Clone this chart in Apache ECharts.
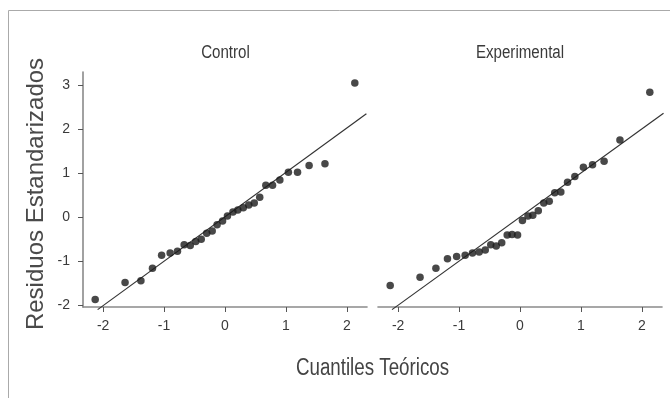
<!DOCTYPE html>
<html><head><meta charset="utf-8">
<script src="https://cdn.jsdelivr.net/npm/echarts@6/dist/echarts.min.js"></script>
<style>html,body{margin:0;padding:0;background:#fff}#c{width:670px;height:398px}</style>
</head><body><div id="c"></div>
<script>
const panelNames = ['Control', 'Experimental'];
const xTicks = [-2, -1, 0, 1, 2];
const yTicks = [-2, -1, 0, 1, 2, 3];
const theoQ = [-2.13,-1.64,-1.38,-1.19,-1.04,-0.90,-0.78,-0.67,-0.57,-0.48,-0.39,-0.30,-0.21,-0.13,-0.04,0.04,0.13,0.21,0.30,0.39,0.48,0.57,0.67,0.78,0.90,1.04,1.19,1.38,1.64,2.13];
const controlY = [-1.88,-1.49,-1.45,-1.17,-0.87,-0.82,-0.78,-0.63,-0.65,-0.56,-0.51,-0.37,-0.32,-0.18,-0.09,0.02,0.11,0.16,0.21,0.27,0.32,0.45,0.72,0.72,0.84,1.02,1.02,1.17,1.21,3.05];
const experimentalY = [-1.56,-1.37,-1.17,-0.95,-0.90,-0.87,-0.82,-0.80,-0.75,-0.63,-0.66,-0.59,-0.41,-0.40,-0.41,-0.08,0.02,0.04,0.14,0.32,0.36,0.55,0.57,0.79,0.92,1.13,1.19,1.27,1.75,2.84];
const controlLine = [[-2.09, -2.11], [2.32, 2.35]];
const experimentalLine = [[-2.10, -2.11], [2.355, 2.36]];
const xTitle = 'Cuantiles Teóricos';
const yTitle = 'Residuos Estandarizados';

const regular = "'Liberation Sans', Arial, sans-serif";

const chart = echarts.init(document.getElementById('c'), null, {renderer: 'canvas'});
const pts = ys => ys.map((y, i) => [theoQ[i], y]);
const grids = [
  {left: 83, top: 72, width: 284, height: 235},
  {left: 378, top: 72, width: 284, height: 235}
];
const xAxisBase = i => ({
  type: 'value', gridIndex: i, min: -2.33, max: 2.33,
  splitLine: {show: false},
  axisLine: {show: true, onZero: false, lineStyle: {color: '#8a8a8a', width: 1.6}},
  axisTick: {show: true, customValues: xTicks, length: 5, lineStyle: {color: '#555', width: 1}},
  axisLabel: {customValues: xTicks, margin: 12, color: '#3a3a3a', fontSize: 14, fontFamily: regular}
});
const yAxisBase = i => ({
  type: 'value', gridIndex: i, min: -2.05, max: 3.3,
  splitLine: {show: false},
  axisLine: {show: i === 0, onZero: false, lineStyle: {color: '#8a8a8a', width: 1.6}},
  axisTick: {show: i === 0, customValues: yTicks, length: 5, lineStyle: {color: '#555', width: 1}},
  axisLabel: {show: i === 0, customValues: yTicks, margin: 13, color: '#3a3a3a', fontSize: 14, fontFamily: regular}
});
const pointSeries = (ys, i) => ({
  type: 'scatter', xAxisIndex: i, yAxisIndex: i, data: pts(ys),
  symbolSize: 7.5, itemStyle: {color: '#1a1a1a'}, silent: true, z: 3
});
const lineSeries = (d, i) => ({
  type: 'line', xAxisIndex: i, yAxisIndex: i, data: d, showSymbol: false, symbol: 'none',
  lineStyle: {color: '#333', width: 1.2}, clip: false, silent: true, z: 2
});
chart.setOption({
  animation: false,
  backgroundColor: '#fff',
  grid: grids,
  xAxis: [xAxisBase(0), xAxisBase(1)],
  yAxis: [yAxisBase(0), yAxisBase(1)],
  series: [
    lineSeries(controlLine, 0), pointSeries(controlY, 0),
    lineSeries(experimentalLine, 1), pointSeries(experimentalY, 1)
  ],
  graphic: [
    {type: 'rect', shape: {x: 8.5, y: 10.5, width: 700, height: 500}, style: {fill: 'none', stroke: '#aaa', lineWidth: 1}, silent: true},
    {type: 'text', x: 225.5, y: 53, scaleX: 0.84, style: {text: panelNames[0], fill: '#3a3a3a', font: '18px ' + regular, align: 'center', verticalAlign: 'middle'}},
    {type: 'text', x: 520, y: 53, scaleX: 0.84, style: {text: panelNames[1], fill: '#3a3a3a', font: '18px ' + regular, align: 'center', verticalAlign: 'middle'}},
    {type: 'text', x: 372.5, y: 369, scaleX: 0.815, style: {text: xTitle, fill: '#444', font: '23px ' + regular, align: 'center', verticalAlign: 'middle'}},
    {type: 'text', x: 36, y: 194, rotation: Math.PI / 2, style: {text: yTitle, fill: '#4a4a4a', font: '24px ' + regular, align: 'center', verticalAlign: 'middle'}}
  ]
});
</script></body></html>
